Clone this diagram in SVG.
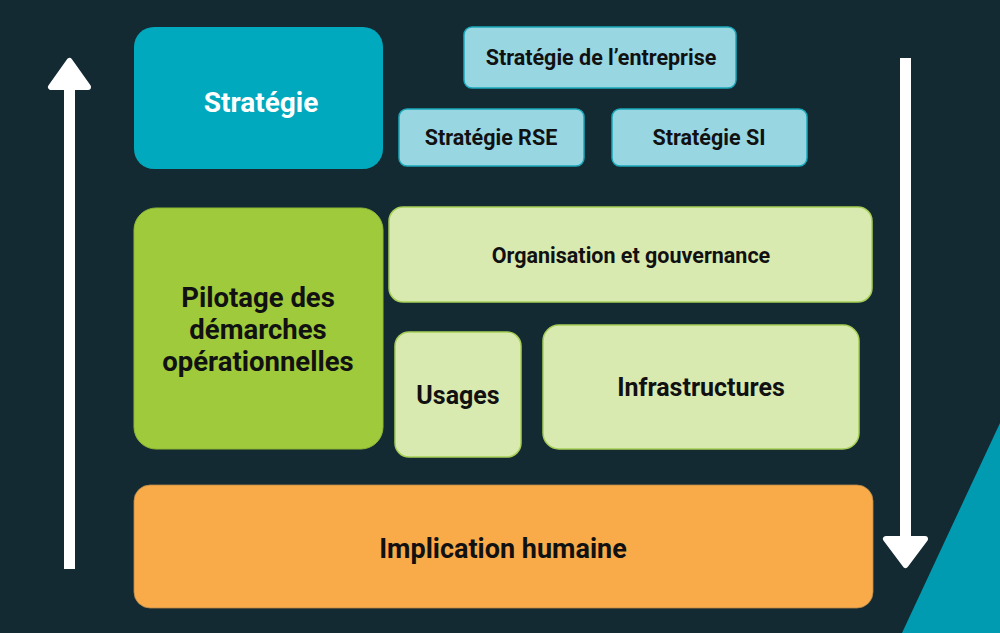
<svg xmlns="http://www.w3.org/2000/svg" width="1000" height="633" viewBox="0 0 1000 633">
<style>
text{font-family:Roboto,"Liberation Sans",sans-serif;font-weight:700;text-anchor:middle;fill:#111}
.s18{font-size:21.5px}
.s24{font-size:25px}
.s27{font-size:27.5px}
.lg{fill:#d9eab0;stroke:#a6cf55;stroke-width:1.5}
.lb{fill:#98d6e1;stroke:#1aa9bb;stroke-width:1.5}
.arrow{fill:#ffffff;stroke:#ffffff;stroke-linejoin:round;stroke-width:6}
</style>
<rect x="0" y="0" width="1000" height="633" fill="#142a33"/>
<polygon points="1000,423 902,633 1000,633" fill="#009bb1"/>
<g id="connectors">
<rect x="64" y="86" width="11" height="483" fill="#ffffff"/>
<polygon class="arrow" points="69.5,61 51,87 88,87"/>
<rect x="900" y="58" width="11" height="482" fill="#ffffff"/>
<polygon class="arrow" points="905.5,565 886,539 925,539"/>
</g>
<g id="strategie">
<rect x="134" y="27" width="249" height="142" rx="20" fill="#00a9bd"/>
<text x="261" y="112" class="s27" style="fill:#ffffff;font-size:28px">Stratégie</text>
</g>
<g id="strategie-entreprise">
<rect x="464" y="27" width="272" height="61" rx="8" class="lb"/>
<text x="601" y="65" class="s18">Stratégie de l’entreprise</text>
</g>
<g id="strategie-rse">
<rect x="399" y="109" width="185" height="57" rx="8" class="lb"/>
<text x="491" y="145" class="s18">Stratégie RSE</text>
</g>
<g id="strategie-si">
<rect x="612" y="109" width="195" height="57" rx="8" class="lb"/>
<text x="709" y="145" class="s18">Stratégie SI</text>
</g>
<g id="pilotage">
<rect x="134" y="208" width="249" height="241" rx="22" fill="#9fca3b" stroke="#8fb935" stroke-width="1"/>
<text class="s27" x="258"><tspan x="258" y="307">Pilotage des</tspan><tspan x="258" y="339">démarches</tspan><tspan x="258" y="371">opérationnelles</tspan></text>
</g>
<g id="organisation">
<rect x="389" y="207" width="483" height="95" rx="14" class="lg"/>
<text x="631" y="263" class="s18">Organisation et gouvernance</text>
</g>
<g id="usages">
<rect x="395" y="332" width="126" height="125" rx="14" class="lg"/>
<text x="458" y="404" class="s24">Usages</text>
</g>
<g id="infrastructures">
<rect x="543" y="325" width="316" height="124" rx="16" class="lg"/>
<text x="701" y="396" class="s24">Infrastructures</text>
</g>
<g id="implication">
<rect x="134" y="485" width="739" height="123" rx="16" fill="#f9ab4a" stroke="#b98a4a" stroke-width="0.8"/>
<text x="503" y="558" class="s27" style="font-size:27px">Implication humaine</text>
</g>
</svg>
